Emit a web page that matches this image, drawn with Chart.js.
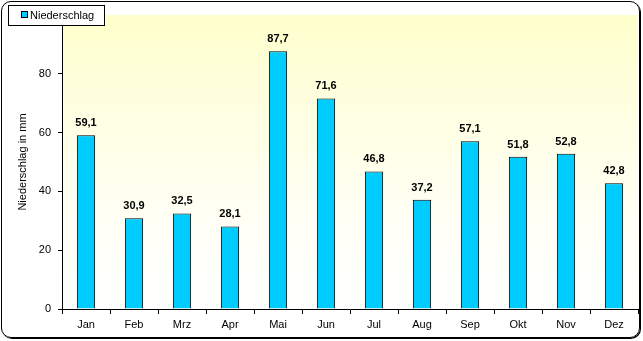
<!DOCTYPE html>
<html>
<head>
<meta charset="utf-8">
<script src="https://cdn.jsdelivr.net/npm/chart.js@4"></script>
<style>
    body { margin: 0; background: #fff; }
    #wrap { position: relative; width: 643px; height: 341px; }
    #frame {
        position: absolute; left: 1px; top: 1px; width: 637px; height: 335px;
        border: 1px solid #000; border-radius: 10px;
        box-shadow: 1px 1px 0 #000; pointer-events: none;
    }
</style>
</head>
<body>
<div id="wrap">
    <canvas id="chart" width="643" height="341"></canvas>
    <div id="frame"></div>
</div>
<script>
const months = ['Jan', 'Feb', 'Mrz', 'Apr', 'Mai', 'Jun', 'Jul', 'Aug', 'Sep', 'Okt', 'Nov', 'Dez'];
const niederschlag = [59.1, 30.9, 32.5, 28.1, 87.7, 71.6, 46.8, 37.2, 57.1, 51.8, 52.8, 42.8];
const yTicks = [0, 20, 40, 60, 80];
const FONT = 'Liberation Sans, Arial, sans-serif';

// yellow fade behind the bars
const plotBackground = {
    id: 'plotBackground',
    beforeDraw(chart) {
        const { ctx, chartArea: a } = chart;
        const g = ctx.createLinearGradient(0, a.top, 0, a.bottom);
        g.addColorStop(0, '#ffffcc');
        g.addColorStop(0.35, '#ffffe4');
        g.addColorStop(0.7, '#fffff5');
        g.addColorStop(1, '#ffffff');
        ctx.save();
        ctx.fillStyle = g;
        ctx.fillRect(a.left, a.top, a.right - a.left, a.bottom - a.top);
        ctx.restore();
    }
};

// value above every bar, German decimal comma
const barValues = {
    id: 'barValues',
    afterDatasetsDraw(chart) {
        const ctx = chart.ctx;
        const meta = chart.getDatasetMeta(0);
        ctx.save();
        ctx.font = 'bold 11px ' + FONT;
        ctx.fillStyle = '#000';
        ctx.textAlign = 'center';
        ctx.textBaseline = 'alphabetic';
        meta.data.forEach((bar, i) => {
            const txt = niederschlag[i].toFixed(1).replace('.', ',');
            ctx.fillText(txt, bar.x, bar.y - 9);
        });
        ctx.restore();
    }
};

// boxed legend in the top left corner
const boxLegend = {
    id: 'boxLegend',
    afterDraw(chart) {
        const ctx = chart.ctx;
        ctx.save();
        ctx.fillStyle = '#fff';
        ctx.strokeStyle = '#000';
        ctx.lineWidth = 1;
        ctx.fillRect(8.5, 5.5, 96, 20);
        ctx.strokeRect(8.5, 5.5, 96, 20);
        ctx.fillStyle = '#00ccff';
        ctx.fillRect(21.5, 11.5, 6, 6);
        ctx.strokeRect(21.5, 11.5, 6, 6);
        ctx.fillStyle = '#000';
        ctx.font = '11px ' + FONT;
        ctx.textBaseline = 'middle';
        ctx.fillText('Niederschlag', 30, 15.5);
        ctx.restore();
    }
};

new Chart(document.getElementById('chart'), {
    type: 'bar',
    data: {
        labels: months,
        datasets: [{
            label: 'Niederschlag',
            data: niederschlag,
            backgroundColor: '#00ccff',
            borderColor: '#000',
            borderWidth: 1,
            categoryPercentage: 1,
            barPercentage: 0.38
        }]
    },
    options: {
        responsive: false,
        animation: false,
        layout: { padding: { left: 8, top: 15, right: 5, bottom: 0 } },
        plugins: {
            legend: { display: false },
            tooltip: { enabled: false }
        },
        scales: {
            x: {
                offset: true,
                grid: {
                    offset: true,
                    drawOnChartArea: false,
                    color: '#000',
                    tickLength: 5
                },
                border: { color: '#000', width: 1 },
                ticks: { color: '#000', font: { family: FONT, size: 11 }, padding: 4, maxRotation: 0 },
                afterFit(scale) { scale.height = 32; }
            },
            y: {
                min: 0,
                max: 100,
                afterBuildTicks(scale) {
                    scale.ticks = yTicks.concat([100]).map(v => ({ value: v }));
                },
                grid: {
                    drawOnChartArea: false,
                    color: ctx => ctx.tick && ctx.tick.value === 100 ? 'rgba(0,0,0,0)' : '#000',
                    tickLength: 4
                },
                border: { color: '#000', width: 1 },
                ticks: {
                    color: '#000',
                    font: { family: FONT, size: 11 },
                    padding: 7,
                    callback: v => yTicks.includes(v) ? v : ''
                },
                title: {
                    display: true,
                    text: 'Niederschlag in mm',
                    color: '#000',
                    font: { family: FONT, size: 11 },
                    padding: { top: 8, bottom: 0 }
                },
                afterFit(scale) { scale.width = 54; }
            }
        }
    },
    plugins: [plotBackground, barValues, boxLegend]
});
</script>
</body>
</html>
